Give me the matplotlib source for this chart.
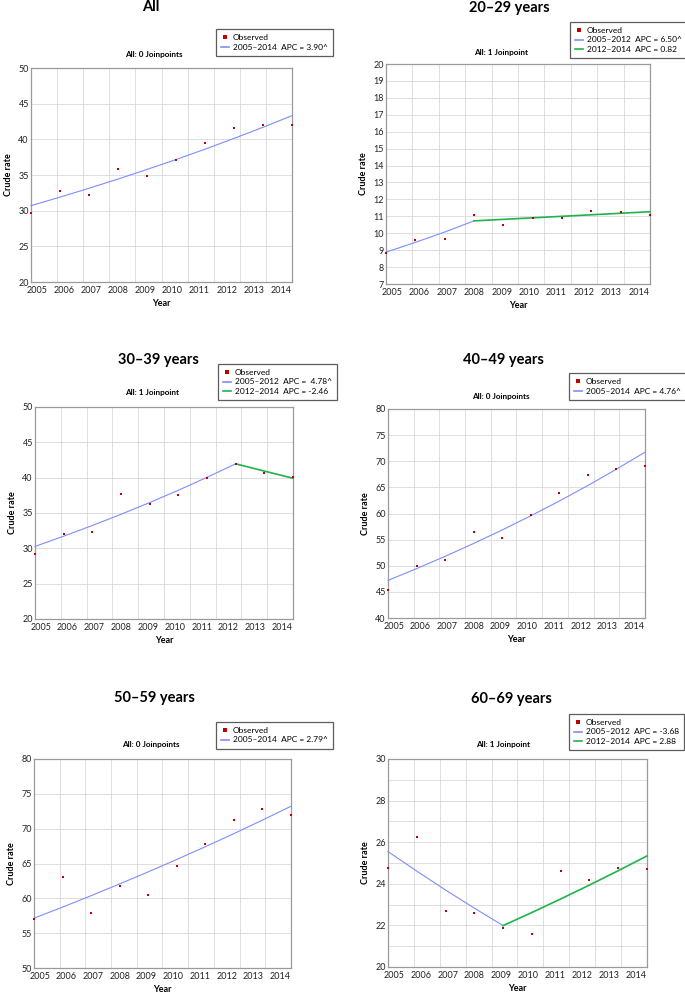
import numpy as np
import matplotlib
matplotlib.use("Agg")
import matplotlib.pyplot as plt
from matplotlib.lines import Line2D

plt.rcParams['font.family'] = ['Lato', 'DejaVu Sans']

W, H = 685, 993

years = [2005, 2006, 2007, 2008, 2009, 2010, 2011, 2012, 2013, 2014]
year_labels = [str(y) for y in years]

# observed crude rates
obs_all = [29.7, 32.8, 32.2, 35.8, 34.9, 37.1, 39.5, 41.6, 42.0, 42.0]
obs_20 = [8.86, 9.62, 9.68, 11.08, 10.49, 10.91, 10.91, 11.30, 11.26, 11.08]
obs_30 = [29.2, 31.97, 32.35, 37.65, 36.23, 37.51, 39.92, 42.0, 40.63, 40.11]
obs_40 = [45.42, 49.95, 51.04, 56.4, 55.31, 59.71, 63.99, 67.37, 68.58, 69.15]
obs_50 = [57.06, 63.02, 57.96, 61.83, 60.44, 64.64, 67.79, 71.22, 72.85, 71.94]
obs_60 = [24.78, 26.23, 22.70, 22.62, 21.88, 21.57, 24.62, 24.20, 24.78, 24.69]

# fitted joinpoint segments (years, values)
fit_all = [(years, [30.7, 31.9, 33.14, 34.43, 35.78, 37.17, 38.62, 40.13, 41.69, 43.32])]
fit_20 = [([2005, 2006, 2007, 2008], [8.88, 9.46, 10.07, 10.73]),
          ([2008, 2009, 2010, 2011, 2012, 2013, 2014], [10.73, 10.82, 10.91, 11.00, 11.09, 11.18, 11.27])]
fit_30 = [([2005, 2006, 2007, 2008, 2009, 2010, 2011, 2012], [30.27, 31.72, 33.23, 34.82, 36.48, 38.22, 40.05, 41.96]),
          ([2012, 2013, 2014], [41.96, 40.93, 39.92])]
fit_40 = [(years, [47.2, 49.45, 51.80, 54.27, 56.85, 59.56, 62.39, 65.36, 68.48, 71.74])]
fit_50 = [(years, [57.15, 58.74, 60.38, 62.07, 63.80, 65.58, 67.41, 69.29, 71.23, 73.22])]
fit_60 = [([2005, 2006, 2007, 2008, 2009], [25.55, 24.61, 23.70, 22.83, 21.99]),
          ([2009, 2010, 2011, 2012, 2013, 2014], [21.99, 22.62, 23.27, 23.94, 24.63, 25.34])]

titles = ['All', '20–29 years', '30–39 years', '40–49 years', '50–59 years', '60–69 years']
subtitles = ['All: 0 Joinpoints', 'All: 1 Joinpoint', 'All: 1 Joinpoint',
             'All: 0 Joinpoints', 'All: 0 Joinpoints', 'All: 1 Joinpoint']
seg_labels = [['2005–2014  APC = 3.90^'],
              ['2005–2012  APC = 6.50^', '2012–2014  APC = 0.82'],
              ['2005–2012  APC =  4.78^', '2012–2014  APC = -2.46'],
              ['2005–2014  APC = 4.76^'],
              ['2005–2014  APC = 2.79^'],
              ['2005–2012  APC = -3.68', '2012–2014  APC = 2.88']]
observed = [obs_all, obs_20, obs_30, obs_40, obs_50, obs_60]
fits = [fit_all, fit_20, fit_30, fit_40, fit_50, fit_60]

# layout (pixels)
ax_px = [(31, 68, 292, 282), (386, 64, 650, 284), (35, 407, 293, 619),
         (388, 409, 645, 618), (34, 759, 291, 968), (388, 759, 647, 967)]
title_px = [(151, 7), (509, 8), (158, 360), (503, 360), (154, 698), (511, 699)]
sub_px = [(154, 54), (501, 52), (152, 393), (501, 396), (151, 745), (503, 745)]
leg_px = [(216, 29), (570, 22), (218, 364), (569, 373), (216, 722), (569, 714)]
yranges = [(20, 50, 5, None), (7, 20, 1, None), (20, 50, 5, None),
           (40, 80, 5, None), (50, 80, 5, None), (20, 30, 2, 1)]

seg_colors = ['#7f8cff', '#1db44a']
seg_widths = [0.8, 1.2]
obs_color = '#c00000'
grid_color = '#d9d9d9'

fig = plt.figure(figsize=(W / 100, H / 100), dpi=100)

for i in range(6):
    l, t, r, b = ax_px[i]
    ax = fig.add_axes([l / W, 1 - b / H, (r - l) / W, (b - t) / H])
    ymin, ymax, step, minor = yranges[i]
    ax.set_xlim(2005, 2014)
    ax.set_ylim(ymin, ymax)

    for k, (xs, ys) in enumerate(fits[i]):
        ax.plot(xs, ys, color=seg_colors[k], lw=seg_widths[k], zorder=3, clip_on=False)
    ax.plot(years, observed[i], 's', color=obs_color, ms=2.0, mew=0, zorder=4, clip_on=False)

    ax.set_xticks(np.linspace(2005.2, 2013.62, 10))
    ax.set_xticklabels(year_labels)
    ax.set_xticks([2005 + 0.9 * k for k in range(1, 10)], minor=True)
    ax.set_yticks(np.arange(ymin, ymax + 0.01, step))
    if minor:
        ax.set_yticks(np.arange(ymin, ymax + 0.01, minor), minor=True)
        ax.grid(True, axis='y', which='minor', color=grid_color, lw=0.6)
    ax.grid(True, axis='x', which='minor', color=grid_color, lw=0.6)
    ax.grid(True, axis='y', which='major', color=grid_color, lw=0.6)
    ax.tick_params(which='both', length=0, labelsize=6.5, colors='#222222')
    ax.tick_params(axis='x', pad=3)
    ax.tick_params(axis='y', pad=1.5)
    ax.set_axisbelow(True)
    for s in ax.spines.values():
        s.set_color('#9a9a9a')
        s.set_linewidth(0.9)

    ax.set_xlabel('Year', fontsize=6.5, fontweight='bold', labelpad=3)
    ax.set_ylabel('Crude rate', fontsize=6.5, fontweight='bold', labelpad=4)

    tx, ty = title_px[i]
    fig.text(tx / W, 1 - ty / H, titles[i], fontsize=10.5, fontweight='bold',
             ha='center', va='center')
    sx, sy = sub_px[i]
    fig.text(sx / W, 1 - sy / H, subtitles[i], fontsize=5.9, fontweight='bold',
             ha='center', va='center')

    handles = [Line2D([], [], ls='none', marker='s', color=obs_color, ms=2.8, mew=0)]
    for k, lab in enumerate(seg_labels[i]):
        handles.append(Line2D([], [], color=seg_colors[k], lw=1.2))
    labels = ['Observed'] + seg_labels[i]
    lx, ly = leg_px[i]
    leg = ax.legend(handles, labels, loc='upper left',
                    bbox_to_anchor=(lx / W, 1 - ly / H), bbox_transform=fig.transFigure,
                    fontsize=6.0, frameon=True, fancybox=False, borderaxespad=0,
                    handlelength=1.0, handletextpad=0.45, borderpad=0.6,
                    labelspacing=0.3)
    leg.get_frame().set_edgecolor('#333333')
    leg.get_frame().set_linewidth(0.9)

fig.savefig('out.png', dpi=100)
